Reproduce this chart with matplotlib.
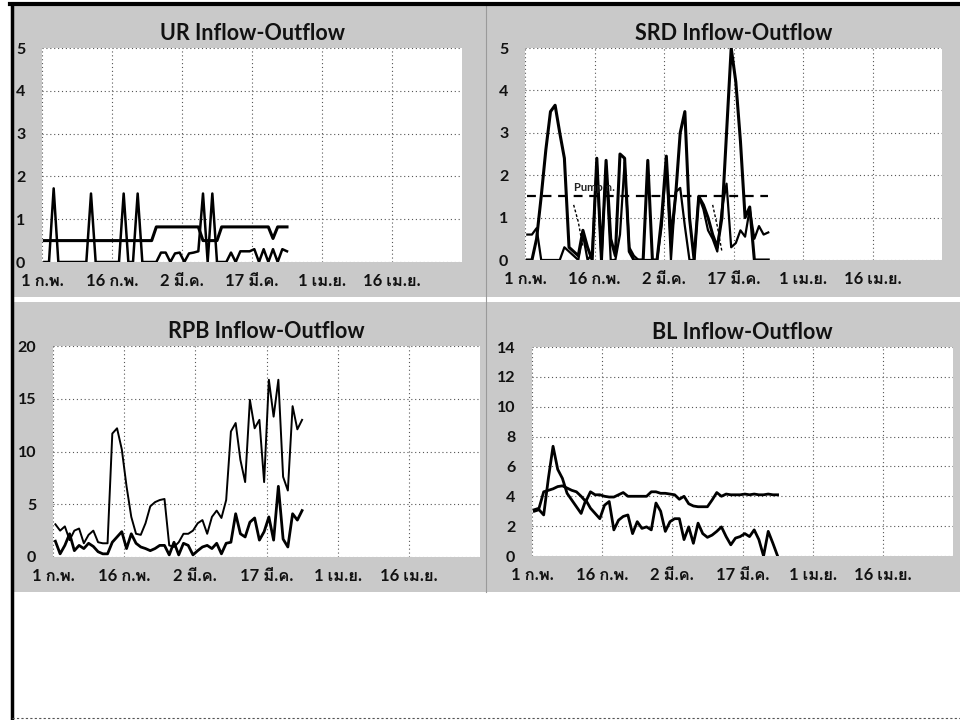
import numpy as np
import pandas as pd
import matplotlib
matplotlib.use('Agg')
import matplotlib.pyplot as plt
from matplotlib import font_manager
from matplotlib.ft2font import FT2Font
from matplotlib.patches import Rectangle
from matplotlib.lines import Line2D

# ---------------- data ----------------
days = pd.date_range('2016-02-01 12:00', periods=53, freq='D')

xtick_dates = ['2016-02-01', '2016-02-16', '2016-03-02', '2016-03-17', '2016-04-01', '2016-04-16']
xtick_labels = ['1 ก.พ.', '16 ก.พ.', '2 มี.ค.', '17 มี.ค.', '1 เม.ย.', '16 เม.ย.']

ur_in = ([0.5] * 24 + [0.82] * 10 + [0.5] * 4 + [0.82] * 11 + [0.55] + [0.82] * 3)
ur_out = [0, 0, 1.72, 0, 0, 0, 0, 0, 0, 0, 1.6, 0, 0, 0, 0, 0, 0, 1.6, 0, 0,
          1.6, 0, 0, 0, 0, 0.22, 0.22, 0.0, 0.2, 0.22, 0.0, 0.2, 0.22, 0.25, 1.6, 0,
          1.6, 0, 0, 0, 0.22, 0, 0.25, 0.25, 0.25, 0.3, 0, 0.3, 0, 0.3, 0, 0.3, 0.25]

srd_in = [0, 0, 0.5, 1.5, 2.6, 3.5, 3.65, 3.0, 2.4, 0.3, 0.2, 0.1, 0.7, 0.3, 0.0, 2.4,
          0, 2.35, 0.5, 0.1, 2.5, 2.4, 0.2, 0, 0, 0, 2.35, 0, 0, 1.0, 2.45, 0.5, 1.5,
          3.0, 3.5, 1.0, 0, 1.5, 1.3, 1.0, 0.6, 0.3, 1.0, 3.0, 5.0, 4.2, 2.8, 1.0, 1.25,
          0, 0, 0, 0]
srd_out = [0.6, 0.6, 0.75, 0, 0, 0, 0, 0, 0.3, 0.2, 0.1, 0, 0.6, 0, 0.15, 2.3, 0,
           2.2, 0, 0, 0.6, 2.3, 0.3, 0.1, 0, 0, 0, 0, 0, 0.8, 2.3, 0, 1.6, 1.7, 0.8, 0,
           0, 1.5, 1.2, 0.7, 0.5, 0.2, 1.2, 1.8, 0.3, 0.4, 0.7, 0.55, 1.2, 0.5, 0.8,
           0.6, 0.65]
srd_dash = [np.nan] * 10 + [1.3, 0.9, 0.3] + [np.nan] * 27 + [1.3, 0.8, 0.2] + [np.nan] * 10
srd_pump = 1.5

rpb_in = [3.1, 2.5, 2.9, 1.6, 2.5, 2.7, 1.3, 2.1, 2.5, 1.4, 1.3, 1.3, 11.7, 12.2, 10.2,
          6.7, 3.8, 2.2, 2.1, 3.2, 4.8, 5.2, 5.4, 5.5, 1.1, 0.95, 1.4, 2.2, 2.2, 2.5,
          3.2, 3.5, 2.2, 3.8, 4.4, 3.7, 5.4, 11.9, 12.7, 9.2, 7.1, 14.9, 12.2, 13.0,
          7.1, 16.8, 13.3, 16.8, 7.6, 6.3, 14.3, 12.1, 13.0]
rpb_out = [1.5, 0.3, 1.1, 2.2, 0.6, 1.1, 0.8, 1.3, 1.0, 0.5, 0.3, 0.3, 1.4, 1.9, 2.4,
           0.8, 2.2, 1.3, 0.95, 0.8, 0.6, 0.8, 1.1, 1.1, 0.2, 1.4, 0.2, 1.3, 1.1, 0.2,
           0.6, 0.95, 1.1, 0.8, 1.3, 0.3, 1.3, 1.4, 4.1, 2.2, 1.9, 3.3, 3.7, 1.6, 2.4,
           3.8, 1.6, 6.7, 1.7, 0.95, 4.1, 3.5, 4.4]

bl_in = [3.1, 3.2, 4.3, 4.4, 4.5, 4.65, 4.7, 4.55, 4.4, 4.3, 4.0, 3.65, 4.3, 4.1, 4.1,
         4.0, 3.95, 3.95, 4.1, 4.25, 4.0, 4.0, 4.0, 4.0, 4.0, 4.3, 4.3, 4.2, 4.2, 4.15,
         4.1, 3.8, 4.0, 3.5, 3.35, 3.3, 3.3, 3.3, 3.75, 4.25, 4.0, 4.15, 4.1, 4.1, 4.1,
         4.15, 4.1, 4.15, 4.1, 4.1, 4.15, 4.1, 4.1]
bl_out = [3.0, 3.1, 2.75, 5.2, 7.35, 5.8, 5.2, 4.2, 3.75, 3.3, 2.85, 3.75, 3.2, 2.85,
          2.5, 3.4, 3.65, 1.75, 2.4, 2.65, 2.75, 1.5, 2.3, 1.85, 1.95, 1.75, 3.55, 3.0,
          1.65, 2.3, 2.5, 2.5, 1.1, 1.95, 0.85, 2.2, 1.5, 1.25, 1.4, 1.65, 1.95, 1.3,
          0.75, 1.2, 1.3, 1.5, 1.3, 1.75, 1.1, 0.0, 1.65, 0.85, 0.0]


# ---------------- fonts ----------------
def find_thai_font():
    for f in font_manager.fontManager.ttflist:
        try:
            if FT2Font(f.fname).get_char_index(0x0E01):
                return f.name
        except Exception:
            pass
    return 'DejaVu Sans'


thai = find_thai_font()
plt.rcParams['font.family'] = ['Lato', thai, 'DejaVu Sans']

W, H = 960, 720
fig = plt.figure(figsize=(9.6, 7.2), dpi=100, facecolor='white')

bg = '#c9c9c9'


def px_rect(x0, y0, x1, y1, **kw):
    fig.patches.append(Rectangle((x0 / W, 1 - y1 / H), (x1 - x0) / W, (y1 - y0) / H,
                                 transform=fig.transFigure, figure=fig, zorder=-5, **kw))


def px_line(xs, ys, **kw):
    fig.lines.append(Line2D([x / W for x in xs], [1 - y / H for y in ys],
                            transform=fig.transFigure, figure=fig, **kw))


# grey panel backgrounds
px_rect(12, 5, 486, 297, facecolor=bg, edgecolor='none')
px_rect(486, 5, 960, 297, facecolor=bg, edgecolor='none')
px_rect(12, 302, 486, 592, facecolor=bg, edgecolor='none')
px_rect(486, 302, 960, 592, facecolor=bg, edgecolor='none')

# page frame
px_line([10, 960], [4, 4], color='black', lw=3)
px_line([12, 12], [4, 718], color='black', lw=2.5)
px_line([12, 960], [718, 718], color='#555555', lw=0.8, ls=(0, (2, 2)))
px_line([486, 486], [5, 592], color='#9a9a9a', lw=0.8, zorder=-4)


def make_ax(l, t, r, b, title, ymax, ystep):
    ax = fig.add_axes([l / W, 1 - b / H, (r - l) / W, (b - t) / H])
    ax.set_facecolor('white')
    for s in ax.spines.values():
        s.set_visible(False)
    ax.set_xlim(pd.Timestamp('2016-02-01'), pd.Timestamp('2016-05-01'))
    ax.set_ylim(0, ymax)
    ax.set_yticks(np.arange(0, ymax + 0.01, ystep))
    ax.set_xticks(pd.to_datetime(xtick_dates))
    ax.set_xticklabels(xtick_labels)
    ax.tick_params(length=0, labelcolor='#111111')
    ax.tick_params(axis='y', pad=12, labelsize=11.5)
    ax.tick_params(axis='x', pad=8, labelsize=12)
    for lab in ax.get_xticklabels() + ax.get_yticklabels():
        lab.set_fontweight('bold')
    ax.grid(True, color='#555555', lw=0.8, ls=(0, (1, 2.5)))
    ax.set_axisbelow(True)
    ax.set_title(title, fontsize=15.5, fontweight='bold', pad=6, color='#111111')
    return ax


ax1 = make_ax(42, 48, 462, 262, 'UR Inflow-Outflow', 5, 1)
ax1.plot(days, ur_in, color='black', lw=2.2)
ax1.plot(days, ur_out, color='black', lw=1.8)

ax2 = make_ax(525, 48, 942, 260, 'SRD Inflow-Outflow', 5, 1)
ax2.plot(days, srd_in, color='black', lw=2.2)
ax2.plot(days, srd_out, color='black', lw=1.6)
ax2.plot(days, srd_dash, color='black', lw=1.0, ls=(0, (2, 1.5)))
ax2.plot([days[0], days[-1]], [srd_pump, srd_pump], color='black', lw=1.6, ls=(0, (4, 3)))
ax2.text(days[10], 1.62, 'Pump ก.', fontsize=8, fontweight='bold', color='#222222')

ax3 = make_ax(53, 346, 480, 557, 'RPB Inflow-Outflow', 20, 5)
ax3.plot(days, rpb_in, color='black', lw=1.4)
ax3.plot(days, rpb_out, color='black', lw=2.0)

ax4 = make_ax(532, 347, 953, 556, 'BL Inflow-Outflow', 14, 2)
ax4.plot(days, bl_in, color='black', lw=2.0)
ax4.plot(days, bl_out, color='black', lw=2.0)

fig.savefig('out.png', dpi=100, facecolor='white')
